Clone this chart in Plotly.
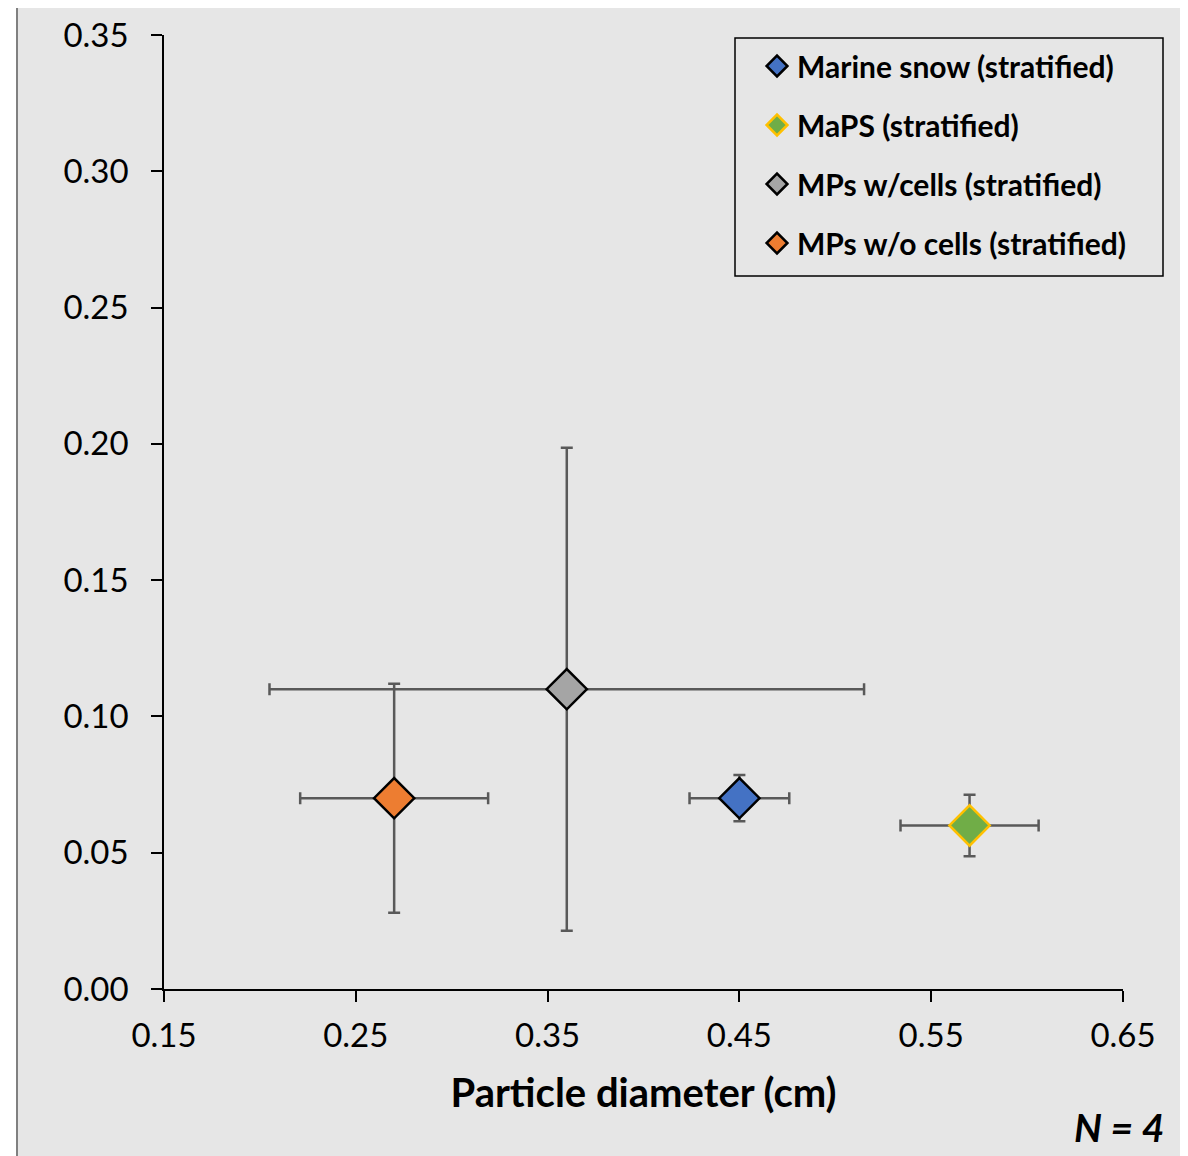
import plotly.graph_objects as go

# ---- data ----
names = ["Marine snow (stratified)", "MaPS (stratified)",
         "MPs w/cells (stratified)", "MPs w/o cells (stratified)"]
diam = [0.45, 0.57, 0.36, 0.27]
yval = [0.070, 0.060, 0.110, 0.070]
diam_err = [0.026, 0.036, 0.155, 0.049]
yval_err = [0.0085, 0.0113, 0.0886, 0.042]
fill_colors = ["#4472C4", "#70AD47", "#A5A5A5", "#ED7D31"]
edge_colors = ["#000000", "#FFC000", "#000000", "#000000"]
xticks = [0.15, 0.25, 0.35, 0.45, 0.55, 0.65]
yticks = [0.00, 0.05, 0.10, 0.15, 0.20, 0.25, 0.30, 0.35]

OFF = 8  # page offset of the figure
W, H = 1188, 1156
PL, PR, PT, PB = 164, 1123, 35, 989  # target plot area in page pixels
L, T = PL - OFF, PT - OFF
pw, ph = PR - PL, PB - PT
R = W - L - pw
B = H - T - ph

def px(xp):
    return (xp - PL) / pw

def py(yp):
    return (PB - yp) / ph

FONT = "Lato"
ERRC = "#595959"

fig = go.Figure()
for i in range(len(names)):
    fig.add_trace(go.Scatter(
        x=[diam[i]], y=[yval[i]], mode="markers", name=names[i],
        legendgroup=f"g{i}",
        marker=dict(symbol="diamond", size=31, color=fill_colors[i],
                    line=dict(color=edge_colors[i], width=2.5)),
        error_x=dict(type="data", array=[diam_err[i]], color=ERRC,
                     thickness=2.5, width=6),
        error_y=dict(type="data", array=[yval_err[i]], color=ERRC,
                     thickness=2.5, width=6),
    ))

shapes = [
    # outer frame
    dict(type="rect", xref="paper", yref="paper", layer="below",
         x0=px(17), x1=px(1210), y0=py(1180), y1=py(6),
         line=dict(color="#808080", width=2), fillcolor="#E6E6E6"),
    # legend box
    dict(type="rect", xref="paper", yref="paper", layer="above",
         x0=px(735), x1=px(1163), y0=py(276), y1=py(38),
         line=dict(color="#000000", width=1.5), fillcolor="rgba(0,0,0,0)"),
]

fig.update_layout(
    template="none",
    width=W, height=H,
    margin=dict(l=L, r=R, t=T, b=B, pad=0, autoexpand=False),
    paper_bgcolor="#FFFFFF",
    plot_bgcolor="rgba(0,0,0,0)",
    font=dict(family=FONT, color="#000000"),
    shapes=shapes,
    showlegend=True,
    legend=dict(x=px(757), y=py(40), xanchor="left", yanchor="top",
                bgcolor="rgba(0,0,0,0)", borderwidth=0,
                font=dict(family=FONT, size=30, color="#000000",
                          weight="bold"),
                tracegroupgap=17),
    xaxis=dict(range=[0.15, 0.65], tickvals=xticks, tickformat=".2f",
               automargin=False,
               showgrid=False, zeroline=False, showline=True,
               linecolor="#000000", linewidth=1.5,
               ticks="outside", ticklen=11, tickwidth=1.5,
               tickcolor="#000000", ticklabelstandoff=6,
               tickfont=dict(family=FONT, size=33),
               title=dict(text="<b>Particle diameter (cm)</b>",
                          font=dict(family=FONT, size=40), standoff=26)),
    yaxis=dict(range=[0, 0.35], tickvals=yticks, tickformat=".2f",
               automargin=False,
               showgrid=False, zeroline=False, showline=True,
               linecolor="#000000", linewidth=1.5,
               ticks="outside", ticklen=11, tickwidth=1.5,
               tickcolor="#000000", ticklabelstandoff=16,
               tickfont=dict(family=FONT, size=33)),
    annotations=[dict(text="<b><i>N = 4</i></b>", xref="paper", yref="paper",
                      x=px(1166), y=py(1127), xanchor="right", yanchor="middle",
                      showarrow=False, font=dict(family=FONT, size=39))],
)

fig.write_html("out.html")
